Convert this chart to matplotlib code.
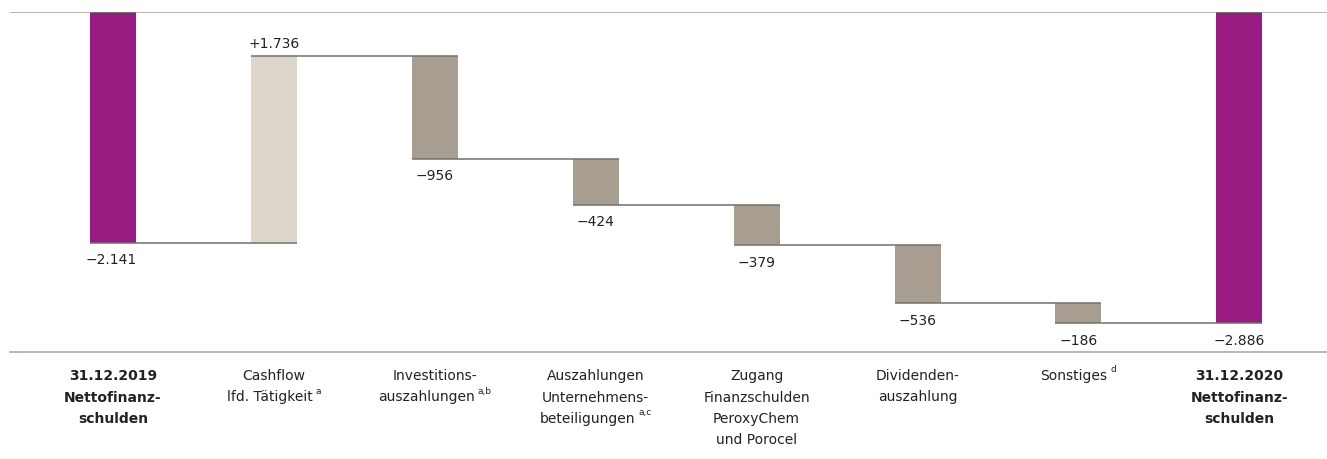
import matplotlib
matplotlib.use("Agg")
import matplotlib.pyplot as plt
from matplotlib.transforms import IdentityTransform
import numpy as np

plt.rcParams['font.family'] = ['DejaVu Sans']

categories = [
    "31.12.2019\nNettofinanz-\nschulden",
    "Cashflow\nlfd. Tätigkeit",
    "Investitions-\nauszahlungen",
    "Auszahlungen\nUnternehmens-\nbeteiligungen",
    "Zugang\nFinanzschulden\nPeroxyChem\nund Porocel",
    "Dividenden-\nauszahlung",
    "Sonstiges",
    "31.12.2020\nNettofinanz-\nschulden",
]
footnotes = ["", "a", "a,b", "a,c", "", "", "d", ""]
start_value = -2141
changes = [1736, -956, -424, -379, -536, -186]
end_value = -2886

PURPLE = "#991a80"
BEIGE = "#ddd6ca"
GREY = "#a89d91"
AXLINE = "#b9b0a6"
CONN = "#72706c"
TXT = "#222222"

def fmt(v, sign=False):
    s = f"{abs(v):,}".replace(",", ".")
    if v < 0:
        return "\u2212" + s
    return ("+" if sign else "") + s

W, H = 1327, 459
fig = plt.figure(figsize=(W / 100, H / 100), dpi=100)
left_px, right_px, top_px, bot_px = 10, 1327, 12, 352
ax = fig.add_axes([left_px / W, 1 - bot_px / H, (right_px - left_px) / W, (bot_px - top_px) / H])

step = 160.9
c0 = 113
ax.set_xlim((left_px - c0) / step, (right_px - c0) / step)
scale = (243 - 12) / 2141.0
ax.set_ylim(-(bot_px - top_px) / scale, 0)
ax.axis('off')

bw = 46 / step
n = len(categories)

# bars
ax.bar(0, start_value, bottom=0, width=bw, color=PURPLE, zorder=2)
level = start_value
levels = [start_value]
for i, d in enumerate(changes, start=1):
    col = BEIGE if d > 0 else GREY
    ax.bar(i, d, bottom=level, width=bw, color=col, zorder=2)
    level += d
    levels.append(level)
ax.bar(n - 1, end_value, bottom=0, width=bw, color=PURPLE, zorder=2)

# connectors
for i in range(n - 1):
    y = levels[i]
    ax.plot([i - bw / 2, i + 1 + bw / 2], [y, y], color=CONN, lw=1.1, zorder=3,
            solid_capstyle='butt')
ax.plot([0 - bw / 2, 0 + bw / 2], [0, 0], color=CONN, lw=1.6, zorder=3, solid_capstyle='butt')
ax.plot([n - 1 - bw / 2, n - 1 + bw / 2], [0, 0], color=CONN, lw=1.6, zorder=3,
        solid_capstyle='butt')

# axis lines
ax.axhline(0, color=AXLINE, lw=1.3, zorder=1)
ax.axhline(ax.get_ylim()[0], color=AXLINE, lw=1.3, zorder=1, clip_on=False)

# value labels (offsets in points; 1 px = 0.72 pt)
fs_val = 10
below = -21.3 * 0.72
above = 7.7 * 0.72
ax.annotate(fmt(start_value), xy=(0, start_value), xytext=(-1.5, below), textcoords='offset points',
            ha='center', va='baseline', fontsize=fs_val, color=TXT)
prev = start_value
for i, d in enumerate(changes, start=1):
    top = prev + d
    if d > 0:
        ax.annotate(fmt(d, sign=True), xy=(i, top), xytext=(0, above), textcoords='offset points',
                    ha='center', va='baseline', fontsize=fs_val, color=TXT)
    else:
        ax.annotate(fmt(d), xy=(i, top), xytext=(0, below), textcoords='offset points',
                    ha='center', va='baseline', fontsize=fs_val, color=TXT)
    prev = top
ax.annotate(fmt(end_value), xy=(n - 1, end_value), xytext=(0, below), textcoords='offset points',
            ha='center', va='baseline', fontsize=fs_val, color=TXT)

# category labels, line by line, with superscript footnotes
renderer = fig.canvas.get_renderer()
first_base = 380.0
line_h = 21.5
gap = 3.5
sup_raise = 7.5
for i, (lab, fn) in enumerate(zip(categories, footnotes)):
    bold = i in (0, n - 1)
    cx = ax.transData.transform((i, 0))[0]
    lines = lab.split("\n")
    for k, line in enumerate(lines):
        yb = H - (first_base + line_h * k)
        t = fig.text(0, 0, line, transform=IdentityTransform(), fontsize=10,
                     fontweight='bold' if bold else 'normal', color=TXT,
                     ha='left', va='baseline')
        w = t.get_window_extent(renderer).width
        if fn and k == len(lines) - 1:
            s = fig.text(0, 0, fn, transform=IdentityTransform(), fontsize=6.5, color=TXT,
                         ha='left', va='baseline')
            ws = s.get_window_extent(renderer).width
            total = w + gap + ws
            x0 = cx - total / 2
            t.set_position((x0, yb))
            s.set_position((x0 + w + gap, yb + sup_raise))
        else:
            t.set_position((cx - w / 2, yb))

fig.savefig("out.png", dpi=100)
